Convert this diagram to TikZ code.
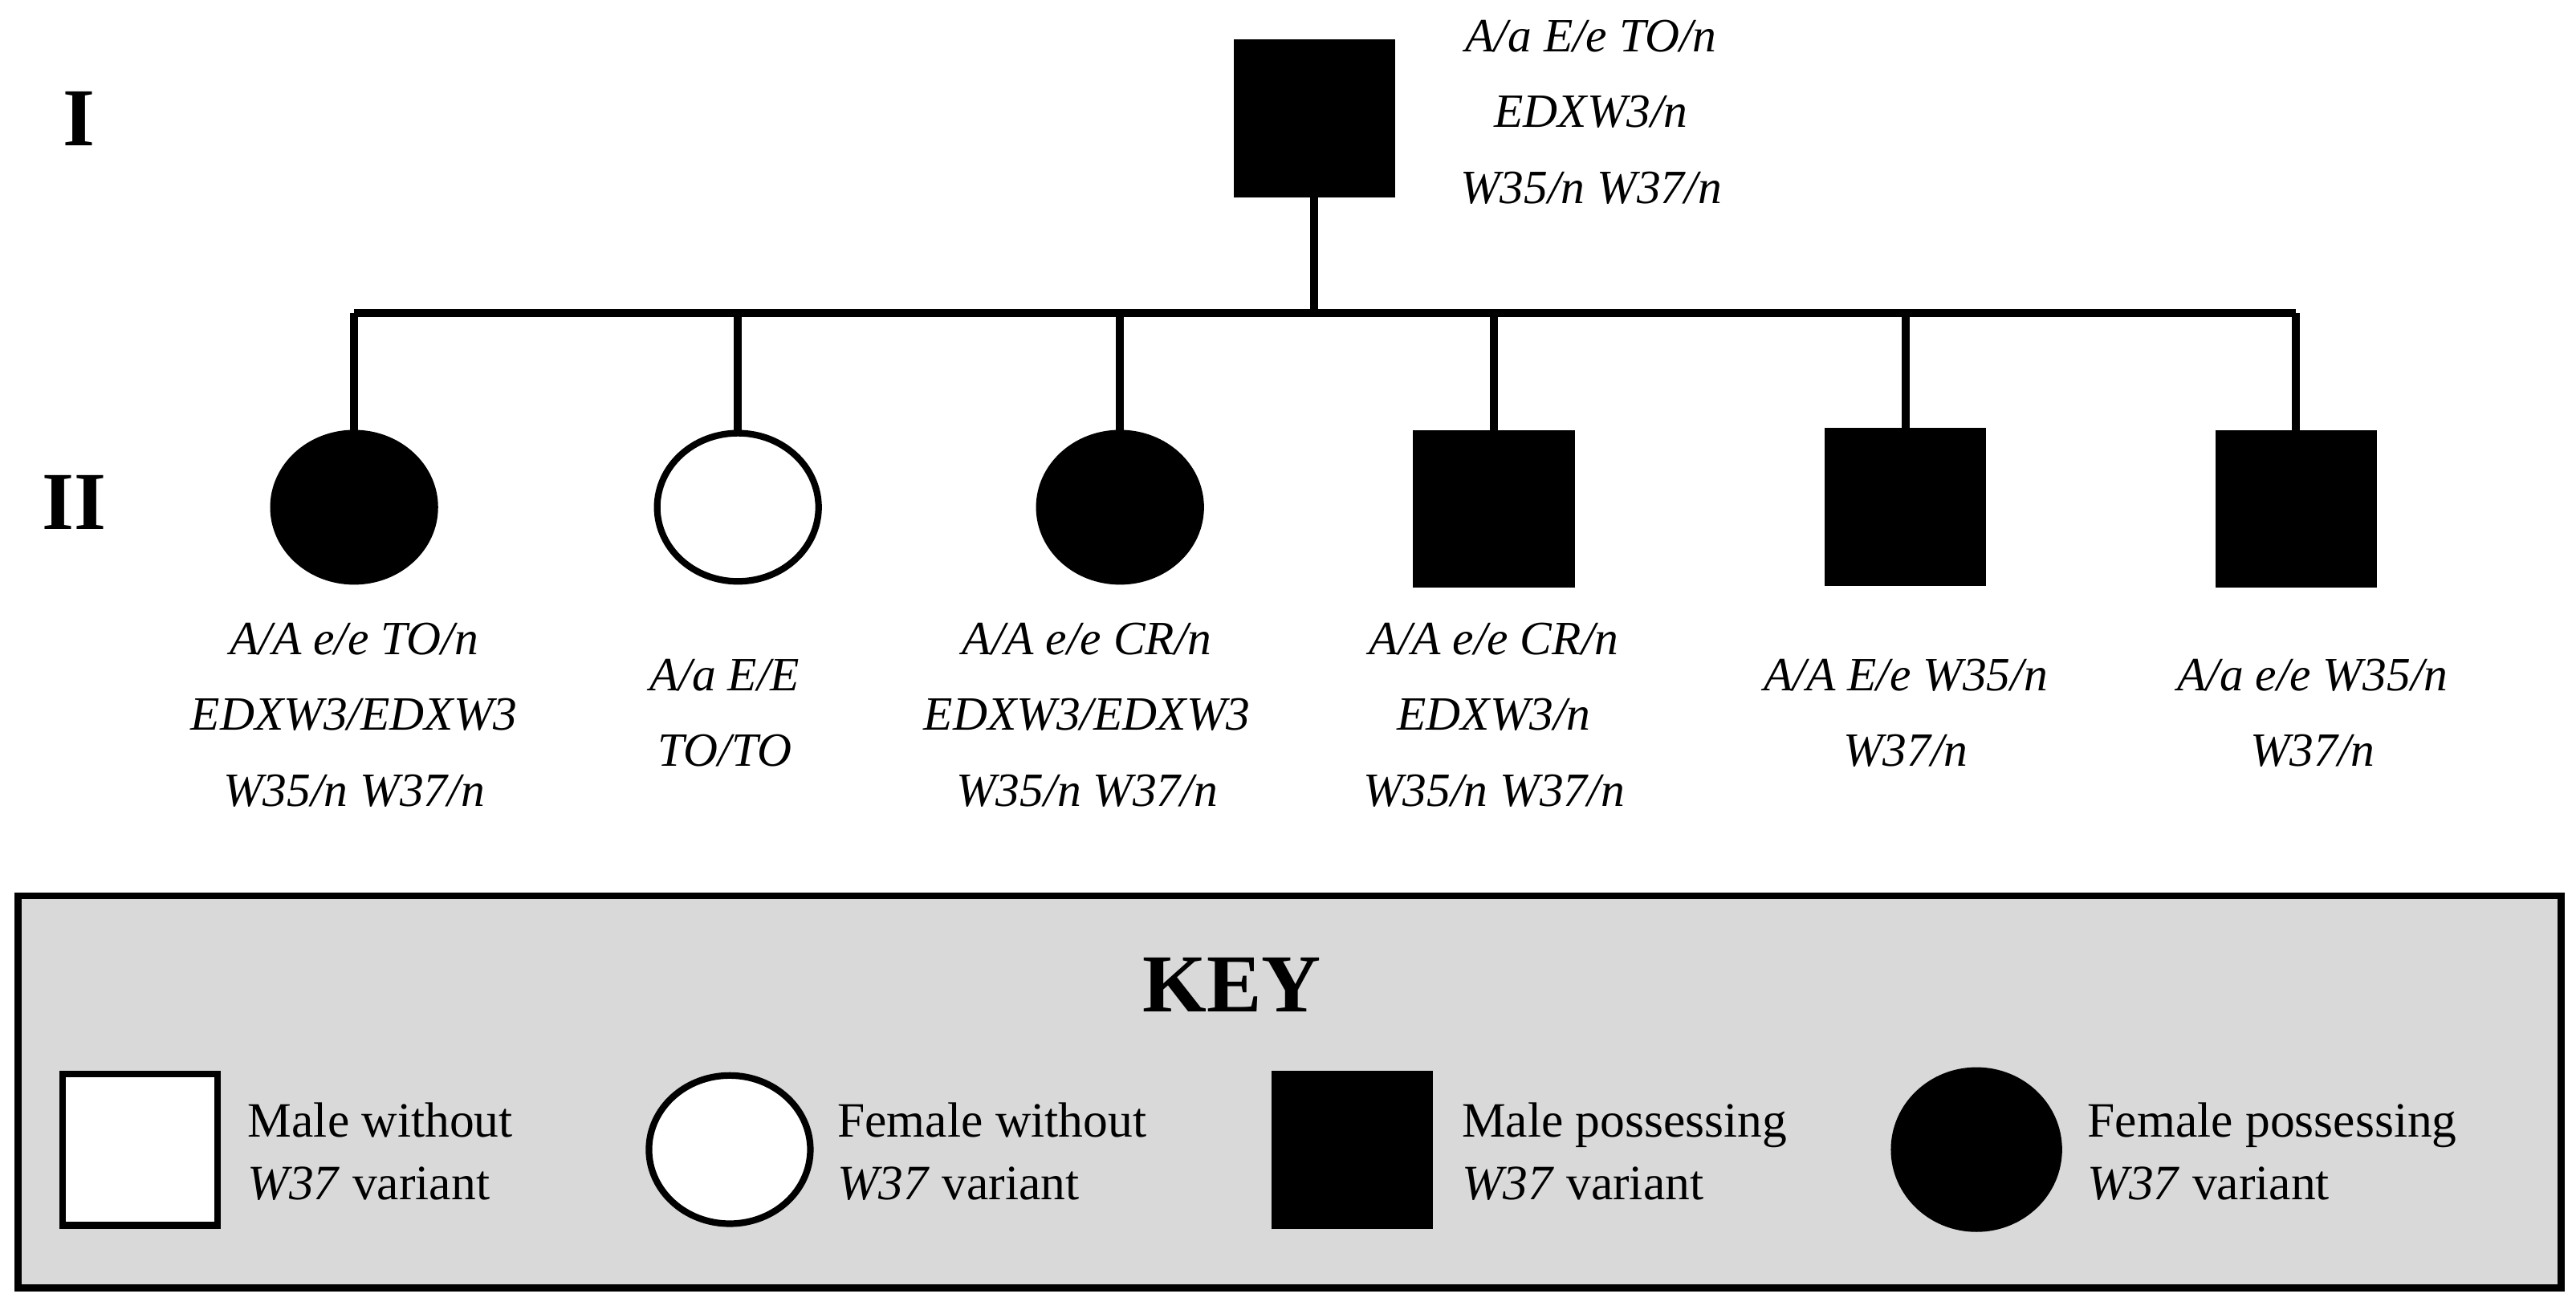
\documentclass[tikz,border=0pt]{standalone}
\usepackage{fontspec}
\usetikzlibrary{shapes.geometric}
\setmainfont{Liberation Serif}
\begin{document}
\begin{tikzpicture}[x=1pt,y=-1pt,
  ln/.style={line width=5pt},
  msq/.style={draw,line width=4pt,minimum width=94pt,minimum height=92pt,inner sep=0pt},
  fci/.style={draw,line width=4pt,ellipse,minimum width=98pt,minimum height=90pt,inner sep=0pt},
  geno/.style={font=\fontsize{29}{46}\selectfont\itshape,align=center},
  keyt/.style={font=\fontsize{30}{38}\selectfont,align=left,anchor=west},
  gen/.style={font=\fontsize{50}{50}\selectfont\bfseries}]
\useasboundingbox (0,0) rectangle (1564,795);
\node[gen] (g1) at (48,72) {I};
\node[gen] (g2) at (45,305) {II};
\node[msq,fill=black] (f) at (798,72) {};
\node[geno] (ft) at (966,68) {A/a E/e TO/n\\EDXW3/n\\W35/n W37/n};
\coordinate (j) at (798,190);
\coordinate (l) at (215,190);
\coordinate (r) at (1394,190);
\draw[ln] (f.south) -- (j);
\draw[ln] (l) -- (r);
\node[fci,fill=black] (c1) at (215,308) {};
\node[fci,fill=white] (c2) at (448,308) {};
\node[fci,fill=black] (c3) at (680,308) {};
\node[msq,fill=black] (c4) at (907,309) {};
\node[msq,fill=black] (c5) at (1157,308) {};
\node[msq,fill=black] (c6) at (1394,309) {};
\foreach \c in {c1,c2,c3,c4,c5,c6}{\draw[ln] (\c.north) -- (\c.north |- l);}
\node[geno] (t1) at (215,434) {A/A e/e TO/n\\EDXW3/EDXW3\\W35/n W37/n};
\node[geno] (t2) at (440,433) {A/a E/E\\TO/TO};
\node[geno] (t3) at (660,434) {A/A e/e CR/n\\EDXW3/EDXW3\\W35/n W37/n};
\node[geno] (t4) at (907,434) {A/A e/e CR/n\\EDXW3/n\\W35/n W37/n};
\node[geno] (t5) at (1157,433) {A/A E/e W35/n\\W37/n};
\node[geno] (t6) at (1404,433) {A/a e/e W35/n\\W37/n};
\node[draw,line width=4pt,fill={rgb,255:red,217;green,217;blue,217},minimum width=1544pt,minimum height=238pt,inner sep=0pt] (key) at (783,663) {};
\node[font=\fontsize{50}{50}\selectfont\bfseries] (kt) at (748,598) {KEY};
\node[msq,fill=white] (k1) at (85,698) {};
\node[fci,fill=white] (k2) at (443,698) {};
\node[msq,fill=black] (k3) at (821,698) {};
\node[fci,fill=black,minimum width=100pt,minimum height=96pt] (k4) at (1200,698) {};
\node[keyt] (kl1) at (147,699) {Male without\\\textit{W37} variant};
\node[keyt] (kl2) at (505,699) {Female without\\\textit{W37} variant};
\node[keyt] (kl3) at (884,699) {Male possessing\\\textit{W37} variant};
\node[keyt] (kl4) at (1264,699) {Female possessing\\\textit{W37} variant};
\end{tikzpicture}
\end{document}
